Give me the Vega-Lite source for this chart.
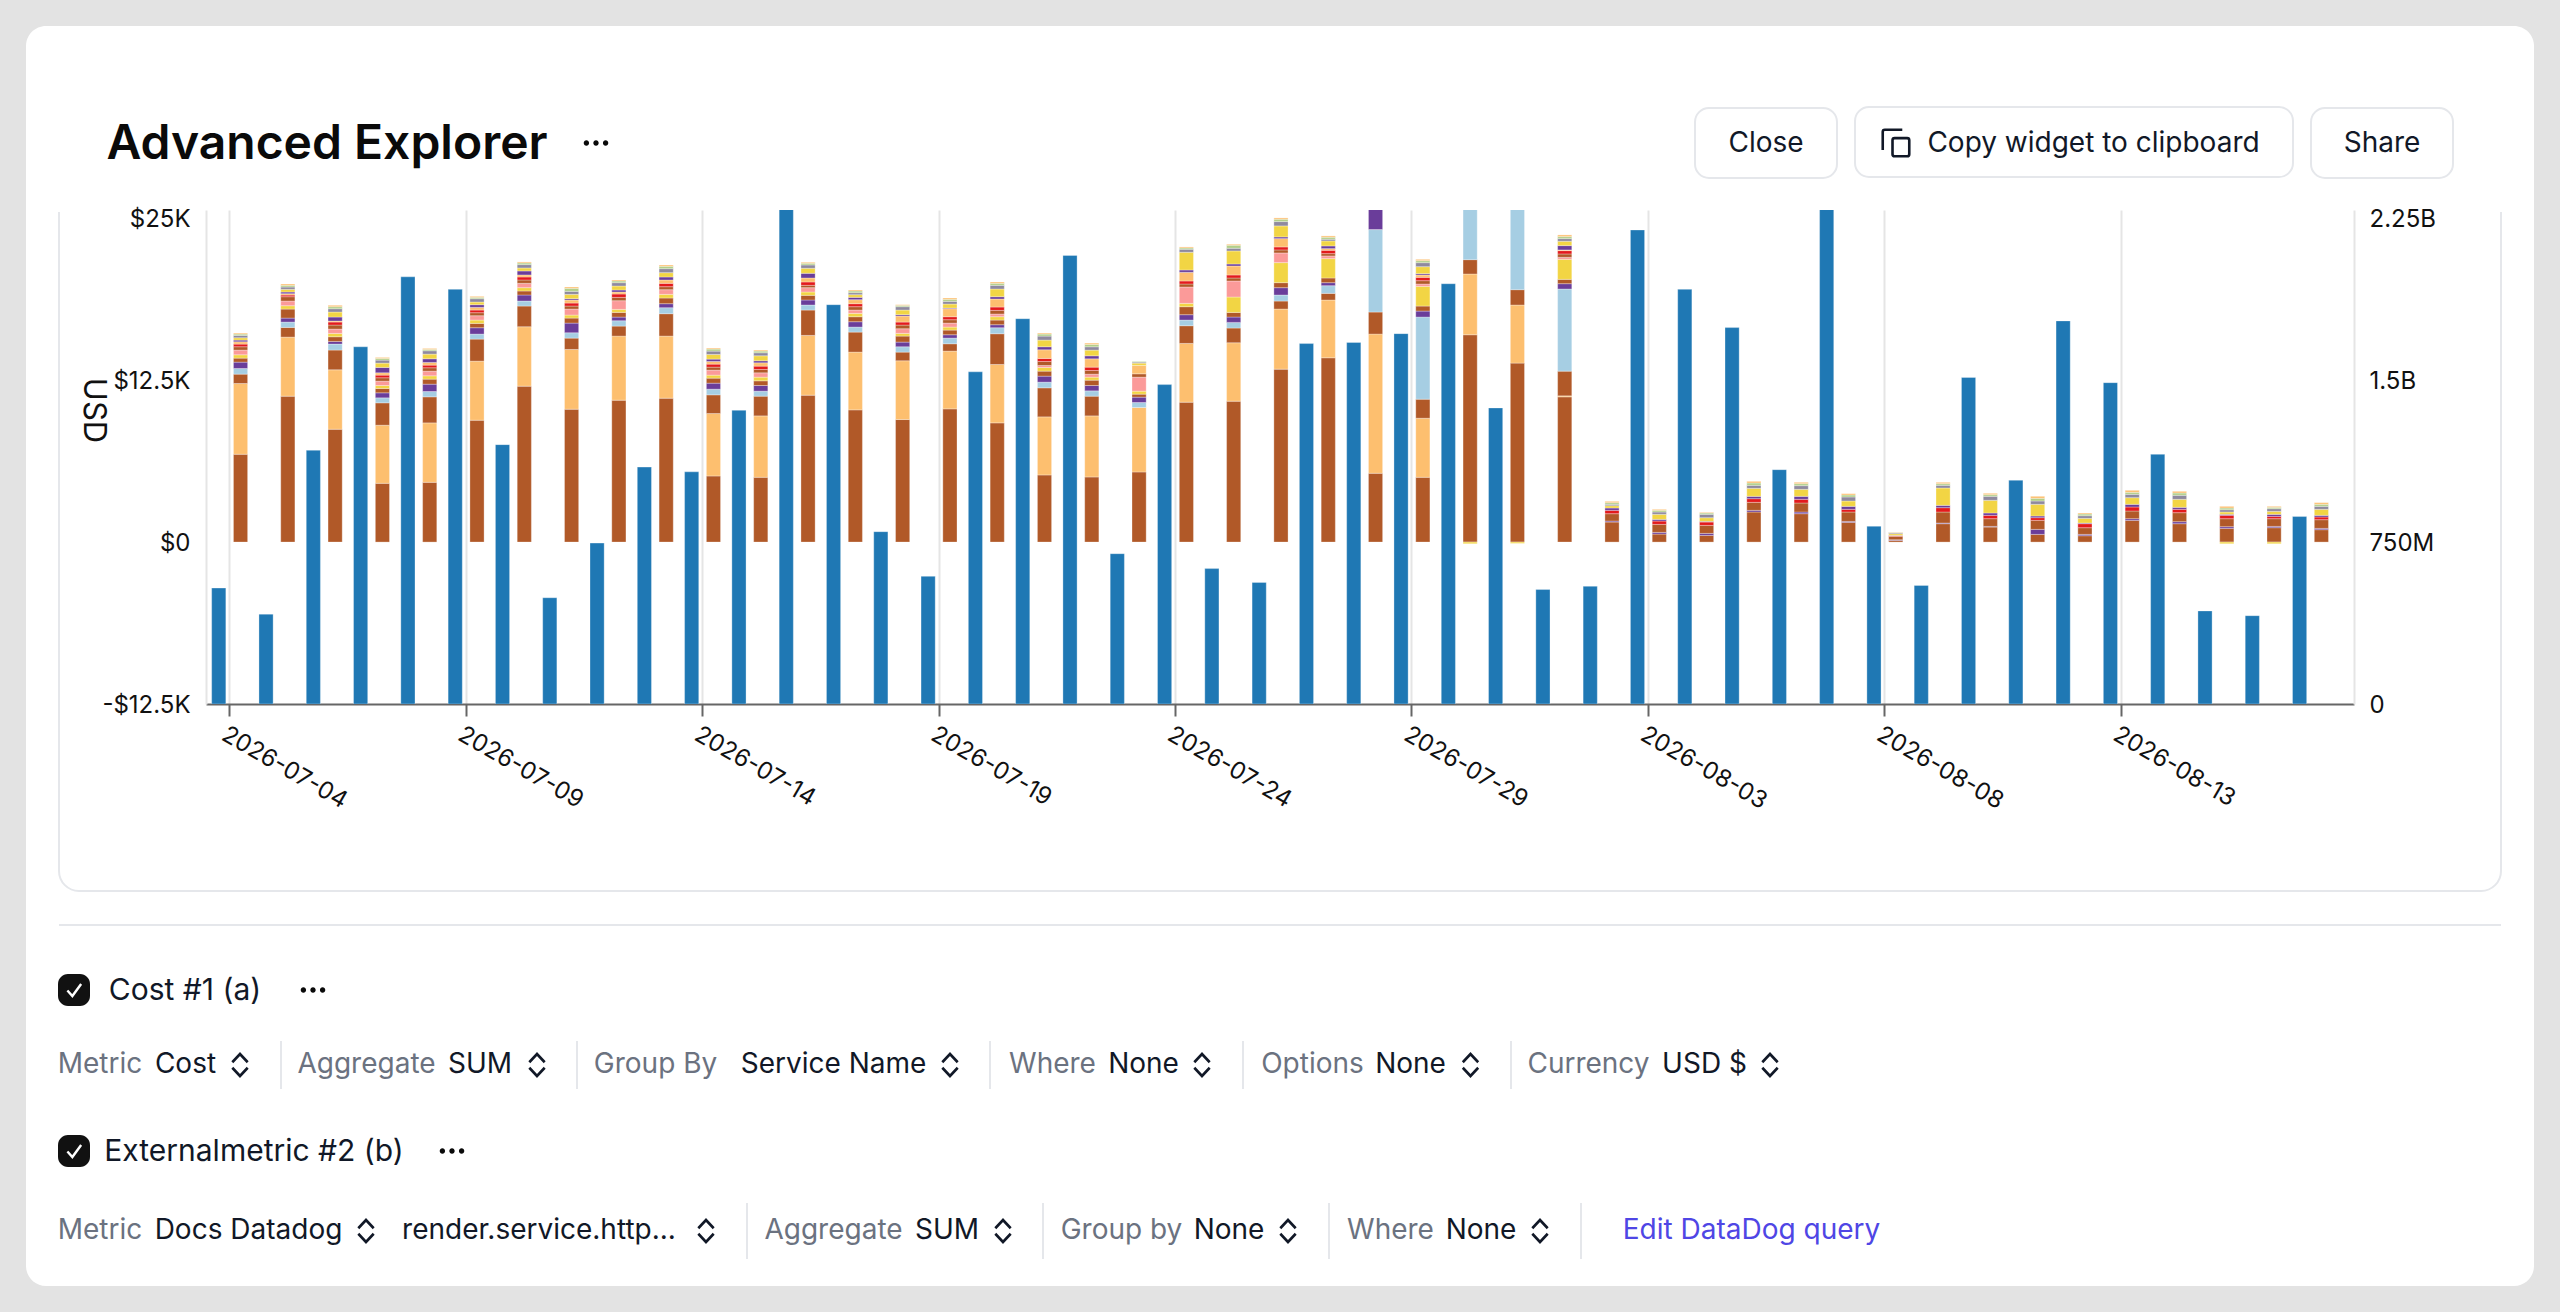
{"$schema":"https://vega.github.io/schema/vega-lite/v6.json","description":"Advanced Explorer widget: daily cost by service with an external request metric","background":"#e3e3e3","padding":26,"bounds":"flush","vconcat":[
{"vconcat":[{"width":2508,"height":1260,"view":{"fill":"#ffffff","cornerRadius":20},"data":{"name":"none"},"mark":"text"}]},
{"columns":2,"bounds":"flush","align":"each","concat":[
{"width":33,"height":164,"data":{"name":"none"},"mark":"text"},{"width":2442,"height":164,"data":{"name":"none"},"mark":"text"},
{"width":33,"height":701,"data":{"name":"none"},"mark":"text"},{"width":2442,"height":701,"view":{"stroke":"#e5e7eb","strokeWidth":2,"cornerRadius":20},"data":{"name":"none"},"mark":"text"}]},
{"columns":2,"bounds":"flush","align":"each","concat":[
{"width":1829,"height":81,"data":{"name":"none"},"mark":"text"},{"width":438,"height":81,"data":{"name":"none"},"mark":"text"},
{"width":1829,"height":70,"data":{"name":"none"},"mark":"text"},{"width":438,"height":70,"view":{"stroke":"#e5e7eb","strokeWidth":2,"cornerRadius":14},"data":{"name":"none"},"mark":"text"}]},
{"vconcat":[
{"width":2508,"height":81,"data":{"name":"none"},"mark":"text"},
{"bounds":"flush","hconcat":[
{"width":80,"height":70,"data":{"name":"none"},"mark":"text"},
{"width":442,"height":70,"data":{"values":[{"label":"Advanced Explorer"}]},"mark":{"type":"text","style":"ttl"},"encoding":{"text":{"field":"label"}}},
{"width":96,"height":70,"data":{"values":[{"icon":"more"}]},"mark":{"type":"point","shape":"M-1.92,0a.42,.42 0 1,0 .84,0a.42,.42 0 1,0 -.84,0M-.42,0a.42,.42 0 1,0 .84,0a.42,.42 0 1,0 -.84,0M1.08,0a.42,.42 0 1,0 .84,0a.42,.42 0 1,0 -.84,0","size":164,"filled":true,"color":"#0a0a0a","opacity":1}},
{"width":1051,"height":70,"data":{"name":"none"},"mark":"text"},
{"width":142,"height":70,"view":{"stroke":"#e5e7eb","strokeWidth":2,"cornerRadius":14},"data":{"values":[{"label":"Close"}]},"mark":{"type":"text","style":"btn"},"encoding":{"text":{"field":"label"}}},
{"width":18,"height":70,"data":{"name":"none"},"mark":"text"},
{"width":27,"height":70,"data":{"name":"none"},"mark":"text"},
{"width":28,"height":70,"data":{"values":[{"icon":"copy"}]},"mark":{"type":"point","shape":"M-.25,-.2Q-.25,-.35 -.1,-.35H.8Q.95,-.35 .95,-.2V.8Q.95,.95 .8,.95H-.1Q-.25,.95 -.25,.8ZM-.95,.5V-.8Q-.95,-.95 -.8,-.95H.45","size":780,"color":"#111827","strokeWidth":2.6,"opacity":1}},
{"width":367,"height":70,"data":{"values":[{"label":"Copy widget to clipboard"}]},"mark":{"type":"text","style":"btn"},"encoding":{"text":{"field":"label"}}},
{"width":34,"height":70,"data":{"name":"none"},"mark":"text"},
{"width":142,"height":70,"view":{"stroke":"#e5e7eb","strokeWidth":2,"cornerRadius":14},"data":{"values":[{"label":"Share"}]},"mark":{"type":"text","style":"btn"},"encoding":{"text":{"field":"label"}}}]},
{"width":2508,"height":3,"data":{"name":"none"},"mark":"text"},
{"bounds":"flush","hconcat":[
{"width":14,"height":30,"data":{"name":"none"},"mark":"text"},
{"width":2480,"height":30,"view":{"fill":"#ffffff"},"data":{"name":"none"},"mark":"text"}]},
{"width":2508,"height":712,"data":{"name":"none"},"mark":"text"},
{"bounds":"flush","hconcat":[
{"width":33,"height":2,"data":{"name":"none"},"mark":"text"},
{"width":2442,"height":2,"view":{"fill":"#e5e7eb"},"data":{"name":"none"},"mark":"text"}]},
{"width":2508,"height":48,"data":{"name":"none"},"mark":"text"},
{"bounds":"flush","hconcat":[
{"width":32,"height":32,"data":{"name":"none"},"mark":"text"},
{"width":32,"height":32,"view":{"fill":"#111111","cornerRadius":10},"data":{"values":[{"icon":"checked"}]},"mark":{"type":"point","shape":"M-.6,.05L-.15,.55L.65,-.55","size":484,"color":"#ffffff","strokeWidth":2.4,"opacity":1}},
{"width":16,"height":32,"data":{"name":"none"},"mark":"text"},
{"width":158,"height":32,"data":{"values":[{"label":"Cost #1 (a)"}]},"mark":{"type":"text","style":"chk"},"encoding":{"text":{"field":"label"}}},
{"width":36,"height":32,"data":{"name":"none"},"mark":"text"},
{"width":26,"height":32,"data":{"values":[{"icon":"more"}]},"mark":{"type":"point","shape":"M-1.92,0a.42,.42 0 1,0 .84,0a.42,.42 0 1,0 -.84,0M-.42,0a.42,.42 0 1,0 .84,0a.42,.42 0 1,0 -.84,0M1.08,0a.42,.42 0 1,0 .84,0a.42,.42 0 1,0 -.84,0","size":164,"filled":true,"color":"#0a0a0a","opacity":1}}]},
{"width":2508,"height":35,"data":{"name":"none"},"mark":"text"},
{"bounds":"flush","hconcat":[
{"width":34,"height":48,"data":{"name":"none"},"mark":"text"},
{"width":80,"height":48,"data":{"values":[{"label":"Metric"}]},"mark":{"type":"text","style":"lbl"},"encoding":{"text":{"field":"label"}}},
{"width":91,"height":48,"data":{"values":[{"label":"Cost"}]},"mark":{"type":"text","style":"val"},"encoding":{"text":{"field":"label"}}},
{"width":18,"height":48,"data":{"values":[{"icon":"select"}]},"mark":{"type":"point","shape":"M-.7,-.25L0,-1L.7,-.25M-.7,.25L0,1L.7,.25","size":484,"color":"#111827","strokeWidth":2.6,"opacity":1}},
{"width":31,"height":48,"data":{"name":"none"},"mark":"text"},
{"width":2,"height":48,"view":{"fill":"#e5e7eb"},"data":{"name":"none"},"mark":"text"},
{"width":169,"height":48,"data":{"values":[{"label":"Aggregate"}]},"mark":{"type":"text","style":"lbl"},"encoding":{"text":{"field":"label"}}},
{"width":58,"height":48,"data":{"values":[{"label":"SUM"}]},"mark":{"type":"text","style":"val"},"encoding":{"text":{"field":"label"}}},
{"width":56,"height":48,"data":{"values":[{"icon":"select"}]},"mark":{"type":"point","shape":"M-.7,-.25L0,-1L.7,-.25M-.7,.25L0,1L.7,.25","size":484,"color":"#111827","strokeWidth":2.6,"opacity":1}},
{"width":11,"height":48,"data":{"name":"none"},"mark":"text"},
{"width":2,"height":48,"view":{"fill":"#e5e7eb"},"data":{"name":"none"},"mark":"text"},
{"width":155,"height":48,"data":{"values":[{"label":"Group By"}]},"mark":{"type":"text","style":"lbl"},"encoding":{"text":{"field":"label"}}},
{"width":201,"height":48,"data":{"values":[{"label":"Service Name"}]},"mark":{"type":"text","style":"val"},"encoding":{"text":{"field":"label"}}},
{"width":32,"height":48,"data":{"values":[{"icon":"select"}]},"mark":{"type":"point","shape":"M-.7,-.25L0,-1L.7,-.25M-.7,.25L0,1L.7,.25","size":484,"color":"#111827","strokeWidth":2.6,"opacity":1}},
{"width":23,"height":48,"data":{"name":"none"},"mark":"text"},
{"width":2,"height":48,"view":{"fill":"#e5e7eb"},"data":{"name":"none"},"mark":"text"},
{"width":123,"height":48,"data":{"values":[{"label":"Where"}]},"mark":{"type":"text","style":"lbl"},"encoding":{"text":{"field":"label"}}},
{"width":59,"height":48,"data":{"values":[{"label":"None"}]},"mark":{"type":"text","style":"val"},"encoding":{"text":{"field":"label"}}},
{"width":58,"height":48,"data":{"values":[{"icon":"select"}]},"mark":{"type":"point","shape":"M-.7,-.25L0,-1L.7,-.25M-.7,.25L0,1L.7,.25","size":484,"color":"#111827","strokeWidth":2.6,"opacity":1}},
{"width":11,"height":48,"data":{"name":"none"},"mark":"text"},
{"width":2,"height":48,"view":{"fill":"#e5e7eb"},"data":{"name":"none"},"mark":"text"},
{"width":137,"height":48,"data":{"values":[{"label":"Options"}]},"mark":{"type":"text","style":"lbl"},"encoding":{"text":{"field":"label"}}},
{"width":59,"height":48,"data":{"values":[{"label":"None"}]},"mark":{"type":"text","style":"val"},"encoding":{"text":{"field":"label"}}},
{"width":61,"height":48,"data":{"values":[{"icon":"select"}]},"mark":{"type":"point","shape":"M-.7,-.25L0,-1L.7,-.25M-.7,.25L0,1L.7,.25","size":484,"color":"#111827","strokeWidth":2.6,"opacity":1}},
{"width":9,"height":48,"data":{"name":"none"},"mark":"text"},
{"width":2,"height":48,"view":{"fill":"#e5e7eb"},"data":{"name":"none"},"mark":"text"},
{"width":153,"height":48,"data":{"values":[{"label":"Currency"}]},"mark":{"type":"text","style":"lbl"},"encoding":{"text":{"field":"label"}}},
{"width":79,"height":48,"data":{"values":[{"label":"USD $"}]},"mark":{"type":"text","style":"val"},"encoding":{"text":{"field":"label"}}},
{"width":52,"height":48,"data":{"values":[{"icon":"select"}]},"mark":{"type":"point","shape":"M-.7,-.25L0,-1L.7,-.25M-.7,.25L0,1L.7,.25","size":484,"color":"#111827","strokeWidth":2.6,"opacity":1}}]},
{"width":2508,"height":46,"data":{"name":"none"},"mark":"text"},
{"bounds":"flush","hconcat":[
{"width":32,"height":32,"data":{"name":"none"},"mark":"text"},
{"width":32,"height":32,"view":{"fill":"#111111","cornerRadius":10},"data":{"values":[{"icon":"checked"}]},"mark":{"type":"point","shape":"M-.6,.05L-.15,.55L.65,-.55","size":484,"color":"#ffffff","strokeWidth":2.4,"opacity":1}},
{"width":16,"height":32,"data":{"name":"none"},"mark":"text"},
{"width":296,"height":32,"data":{"values":[{"label":"Externalmetric #2 (b)"}]},"mark":{"type":"text","style":"chk"},"encoding":{"text":{"field":"label"}}},
{"width":37,"height":32,"data":{"name":"none"},"mark":"text"},
{"width":26,"height":32,"data":{"values":[{"icon":"more"}]},"mark":{"type":"point","shape":"M-1.92,0a.42,.42 0 1,0 .84,0a.42,.42 0 1,0 -.84,0M-.42,0a.42,.42 0 1,0 .84,0a.42,.42 0 1,0 -.84,0M1.08,0a.42,.42 0 1,0 .84,0a.42,.42 0 1,0 -.84,0","size":164,"filled":true,"color":"#0a0a0a","opacity":1}}]},
{"width":2508,"height":36,"data":{"name":"none"},"mark":"text"},
{"bounds":"flush","hconcat":[
{"width":34,"height":56,"data":{"name":"none"},"mark":"text"},
{"width":80,"height":56,"data":{"values":[{"label":"Metric"}]},"mark":{"type":"text","style":"lbl"},"encoding":{"text":{"field":"label"}}},
{"width":217,"height":56,"data":{"values":[{"label":"Docs Datadog"}]},"mark":{"type":"text","style":"val"},"encoding":{"text":{"field":"label"}}},
{"width":18,"height":56,"data":{"values":[{"icon":"select"}]},"mark":{"type":"point","shape":"M-.7,-.25L0,-1L.7,-.25M-.7,.25L0,1L.7,.25","size":484,"color":"#111827","strokeWidth":2.6,"opacity":1}},
{"width":328,"height":56,"data":{"values":[{"label":"render.service.http..."}]},"mark":{"type":"text","style":"val"},"encoding":{"text":{"field":"label"}}},
{"width":6,"height":56,"data":{"values":[{"icon":"select"}]},"mark":{"type":"point","shape":"M-.7,-.25L0,-1L.7,-.25M-.7,.25L0,1L.7,.25","size":484,"color":"#111827","strokeWidth":2.6,"opacity":1}},
{"width":37,"height":56,"data":{"name":"none"},"mark":"text"},
{"width":2,"height":56,"view":{"fill":"#e5e7eb"},"data":{"name":"none"},"mark":"text"},
{"width":171,"height":56,"data":{"values":[{"label":"Aggregate"}]},"mark":{"type":"text","style":"lbl"},"encoding":{"text":{"field":"label"}}},
{"width":56,"height":56,"data":{"values":[{"label":"SUM"}]},"mark":{"type":"text","style":"val"},"encoding":{"text":{"field":"label"}}},
{"width":56,"height":56,"data":{"values":[{"icon":"select"}]},"mark":{"type":"point","shape":"M-.7,-.25L0,-1L.7,-.25M-.7,.25L0,1L.7,.25","size":484,"color":"#111827","strokeWidth":2.6,"opacity":1}},
{"width":11,"height":56,"data":{"name":"none"},"mark":"text"},
{"width":2,"height":56,"view":{"fill":"#e5e7eb"},"data":{"name":"none"},"mark":"text"},
{"width":155,"height":56,"data":{"values":[{"label":"Group by"}]},"mark":{"type":"text","style":"lbl"},"encoding":{"text":{"field":"label"}}},
{"width":60,"height":56,"data":{"values":[{"label":"None"}]},"mark":{"type":"text","style":"val"},"encoding":{"text":{"field":"label"}}},
{"width":58,"height":56,"data":{"values":[{"icon":"select"}]},"mark":{"type":"point","shape":"M-.7,-.25L0,-1L.7,-.25M-.7,.25L0,1L.7,.25","size":484,"color":"#111827","strokeWidth":2.6,"opacity":1}},
{"width":11,"height":56,"data":{"name":"none"},"mark":"text"},
{"width":2,"height":56,"view":{"fill":"#e5e7eb"},"data":{"name":"none"},"mark":"text"},
{"width":121,"height":56,"data":{"values":[{"label":"Where"}]},"mark":{"type":"text","style":"lbl"},"encoding":{"text":{"field":"label"}}},
{"width":60,"height":56,"data":{"values":[{"label":"None"}]},"mark":{"type":"text","style":"val"},"encoding":{"text":{"field":"label"}}},
{"width":58,"height":56,"data":{"values":[{"icon":"select"}]},"mark":{"type":"point","shape":"M-.7,-.25L0,-1L.7,-.25M-.7,.25L0,1L.7,.25","size":484,"color":"#111827","strokeWidth":2.6,"opacity":1}},
{"width":11,"height":56,"data":{"name":"none"},"mark":"text"},
{"width":2,"height":56,"view":{"fill":"#e5e7eb"},"data":{"name":"none"},"mark":"text"},
{"width":339,"height":56,"data":{"values":[{"label":"Edit DataDog query"}]},"mark":{"type":"text","style":"link"},"encoding":{"text":{"field":"label"}}}]}]},
{"columns":2,"bounds":"flush","align":"each","concat":[
{"width":180,"height":184,"data":{"name":"none"},"mark":"text"},{"width":2148,"height":184,"data":{"name":"none"},"mark":"text"},
{"width":180,"height":494,"data":{"name":"none"},"mark":"text"},
{"width":2148,"height":494,"resolve":{"scale":{"y":"independent"}},"layer":[
{"data":{"name":"cost"},"mark":{"type":"bar","clip":true,"stroke":"#ffffff","strokeWidth":1,"strokeOpacity":0.3},"encoding":{
"x":{"field":"date","type":"ordinal","scale":{"paddingInner":0,"paddingOuter":0.21,"align":0},"axis":{"title":null,"values":["2026-07-04","2026-07-09","2026-07-14","2026-07-19","2026-07-24","2026-07-29","2026-08-03","2026-08-08","2026-08-13"],"labelAngle":30,"labelAlign":"left","labelBaseline":"top","labelPadding":6,"labelFontSize":24,"labelColor":"#111111","grid":true,"gridColor":"#e5e5e5","gridWidth":2,"domainColor":"#666666","domainWidth":2,"tickColor":"#666666","tickWidth":2,"tickSize":12}},
"xOffset":{"datum":"a","type":"nominal","scale":{"domain":["b","a"],"paddingInner":0.35,"paddingOuter":0.26}},
"y":{"field":"usd","type":"quantitative","stack":"zero","scale":{"domain":[-12500,25633],"nice":false},"axis":{"title":"USD","titleAngle":90,"titleX":-130,"titleY":200,"titleFontSize":31,"titleFontWeight":"normal","titleColor":"#111111","values":[-12500,0,12500,25000],"labelExpr":"replace(replace(format(datum.value,'$~s'),'k','K'),'−','-')","labelFontSize":24,"labelColor":"#111111","labelPadding":16,"labelOffset":1.5,"ticks":false,"grid":false,"domain":true,"domainColor":"#e5e5e5","domainWidth":2}},
"color":{"field":"service","type":"nominal","legend":null,"scale":{"domain":["s01","s02","s03","s04","s05","s06","s07","s08","s09","s10","s11","s12","s13","s14","s15","s16","s17"],"range":["#b15928","#fdbf6f","#b15928","#a6cee3","#6a3d9a","#b15928","#f2d544","#fb9a99","#b15928","#e31a1c","#fdbf6f","#6a3d9a","#f2d544","#8f8a9e","#b2cf8a","#fdbf6f","#f2d544"]}},
"order":{"field":"service","sort":"ascending"}}},
{"data":{"name":"requests"},"mark":{"type":"bar","clip":true,"color":"#1f78b4","stroke":"#ffffff","strokeWidth":1,"strokeOpacity":0.3},"encoding":{
"x":{"field":"date","type":"ordinal","scale":{"paddingInner":0,"paddingOuter":0.21,"align":0}},
"xOffset":{"datum":"b","type":"nominal","scale":{"domain":["b","a"],"paddingInner":0.35,"paddingOuter":0.26}},
"y":{"field":"requests","type":"quantitative","scale":{"domain":[0,2287500000],"nice":false},"axis":{"orient":"right","title":null,"values":[0,750000000,1500000000,2250000000],"labelExpr":"replace(format(datum.value,'~s'),'G','B')","labelFontSize":24,"labelColor":"#111111","labelPadding":15,"labelOffset":1.5,"ticks":false,"grid":false,"domain":true,"domainColor":"#e5e5e5","domainWidth":2}}}}]}]}
],"config":{"font":"Inter","view":{"stroke":null},"concat":{"spacing":0},"style":{"lbl":{"color":"#6b7280","fontSize":28},"val":{"color":"#111827","fontSize":28},"btn":{"color":"#111827","fontSize":28,"dy":1},"chk":{"color":"#111827","fontSize":30,"dy":1},"link":{"color":"#4f46e5","fontSize":28},"ttl":{"color":"#0a0a0a","fontSize":48,"fontWeight":600,"dy":1.5}}},
"datasets":{"none":[],
"requests":[{"date":"2026-07-04","requests":537000000},{"date":"2026-07-05","requests":416000000},{"date":"2026-07-06","requests":1175000000},{"date":"2026-07-07","requests":1654000000},{"date":"2026-07-08","requests":1978000000},{"date":"2026-07-09","requests":1920000000},{"date":"2026-07-10","requests":1201000000},{"date":"2026-07-11","requests":492000000},{"date":"2026-07-12","requests":745000000},{"date":"2026-07-13","requests":1097000000},{"date":"2026-07-14","requests":1075000000},{"date":"2026-07-15","requests":1360000000},{"date":"2026-07-16","requests":2400000000},{"date":"2026-07-17","requests":1849000000},{"date":"2026-07-18","requests":798000000},{"date":"2026-07-19","requests":591000000},{"date":"2026-07-20","requests":1538000000},{"date":"2026-07-21","requests":1784000000},{"date":"2026-07-22","requests":2077000000},{"date":"2026-07-23","requests":696000000},{"date":"2026-07-24","requests":1479000000},{"date":"2026-07-25","requests":627000000},{"date":"2026-07-26","requests":563000000},{"date":"2026-07-27","requests":1669000000},{"date":"2026-07-28","requests":1674000000},{"date":"2026-07-29","requests":1715000000},{"date":"2026-07-30","requests":1946000000},{"date":"2026-07-31","requests":1371000000},{"date":"2026-08-01","requests":530000000},{"date":"2026-08-02","requests":545000000},{"date":"2026-08-03","requests":2195000000},{"date":"2026-08-04","requests":1920000000},{"date":"2026-08-05","requests":1743000000},{"date":"2026-08-06","requests":1085000000},{"date":"2026-08-07","requests":2400000000},{"date":"2026-08-08","requests":823000000},{"date":"2026-08-09","requests":549000000},{"date":"2026-08-10","requests":1512000000},{"date":"2026-08-11","requests":1036000000},{"date":"2026-08-12","requests":1774000000},{"date":"2026-08-13","requests":1488000000},{"date":"2026-08-14","requests":1156000000},{"date":"2026-08-15","requests":431000000},{"date":"2026-08-16","requests":409000000},{"date":"2026-08-17","requests":868000000}],
"cost":[
{"date":"2026-07-04","service":"s01","usd":6777},{"date":"2026-07-04","service":"s02","usd":5463},{"date":"2026-07-04","service":"s03","usd":722},{"date":"2026-07-04","service":"s04","usd":438},{"date":"2026-07-04","service":"s05","usd":490},{"date":"2026-07-04","service":"s06","usd":309},{"date":"2026-07-04","service":"s07","usd":258},{"date":"2026-07-04","service":"s08","usd":361},{"date":"2026-07-04","service":"s09","usd":258},{"date":"2026-07-04","service":"s10","usd":206},{"date":"2026-07-04","service":"s11","usd":180},{"date":"2026-07-04","service":"s12","usd":129},{"date":"2026-07-04","service":"s13","usd":180},{"date":"2026-07-04","service":"s14","usd":180},{"date":"2026-07-04","service":"s15","usd":103},{"date":"2026-07-04","service":"s16","usd":77},
{"date":"2026-07-05","service":"s01","usd":11261},{"date":"2026-07-05","service":"s02","usd":4561},{"date":"2026-07-05","service":"s03","usd":747},{"date":"2026-07-05","service":"s04","usd":412},{"date":"2026-07-05","service":"s05","usd":309},{"date":"2026-07-05","service":"s06","usd":696},{"date":"2026-07-05","service":"s07","usd":258},{"date":"2026-07-05","service":"s08","usd":361},{"date":"2026-07-05","service":"s09","usd":335},{"date":"2026-07-05","service":"s10","usd":129},{"date":"2026-07-05","service":"s11","usd":103},{"date":"2026-07-05","service":"s12","usd":129},{"date":"2026-07-05","service":"s13","usd":206},{"date":"2026-07-05","service":"s14","usd":180},{"date":"2026-07-05","service":"s15","usd":129},{"date":"2026-07-05","service":"s16","usd":103},
{"date":"2026-07-06","service":"s01","usd":8710},{"date":"2026-07-06","service":"s02","usd":4587},{"date":"2026-07-06","service":"s03","usd":1520},{"date":"2026-07-06","service":"s04","usd":464},{"date":"2026-07-06","service":"s05","usd":206},{"date":"2026-07-06","service":"s06","usd":361},{"date":"2026-07-06","service":"s07","usd":258},{"date":"2026-07-06","service":"s08","usd":335},{"date":"2026-07-06","service":"s09","usd":309},{"date":"2026-07-06","service":"s10","usd":232},{"date":"2026-07-06","service":"s11","usd":77},{"date":"2026-07-06","service":"s12","usd":309},{"date":"2026-07-06","service":"s13","usd":387},{"date":"2026-07-06","service":"s14","usd":258},{"date":"2026-07-06","service":"s15","usd":155},{"date":"2026-07-06","service":"s16","usd":103},
{"date":"2026-07-07","service":"s01","usd":4536},{"date":"2026-07-07","service":"s02","usd":4484},{"date":"2026-07-07","service":"s03","usd":1727},{"date":"2026-07-07","service":"s04","usd":387},{"date":"2026-07-07","service":"s05","usd":387},{"date":"2026-07-07","service":"s06","usd":335},{"date":"2026-07-07","service":"s07","usd":232},{"date":"2026-07-07","service":"s08","usd":335},{"date":"2026-07-07","service":"s09","usd":258},{"date":"2026-07-07","service":"s10","usd":206},{"date":"2026-07-07","service":"s11","usd":180},{"date":"2026-07-07","service":"s12","usd":412},{"date":"2026-07-07","service":"s13","usd":335},{"date":"2026-07-07","service":"s14","usd":232},{"date":"2026-07-07","service":"s15","usd":129},{"date":"2026-07-07","service":"s16","usd":77},
{"date":"2026-07-08","service":"s01","usd":4613},{"date":"2026-07-08","service":"s02","usd":4587},{"date":"2026-07-08","service":"s03","usd":2010},{"date":"2026-07-08","service":"s04","usd":412},{"date":"2026-07-08","service":"s05","usd":567},{"date":"2026-07-08","service":"s06","usd":387},{"date":"2026-07-08","service":"s07","usd":258},{"date":"2026-07-08","service":"s08","usd":361},{"date":"2026-07-08","service":"s09","usd":258},{"date":"2026-07-08","service":"s10","usd":206},{"date":"2026-07-08","service":"s11","usd":206},{"date":"2026-07-08","service":"s12","usd":283},{"date":"2026-07-08","service":"s13","usd":361},{"date":"2026-07-08","service":"s14","usd":258},{"date":"2026-07-08","service":"s15","usd":103},{"date":"2026-07-08","service":"s16","usd":77},
{"date":"2026-07-09","service":"s01","usd":9406},{"date":"2026-07-09","service":"s02","usd":4561},{"date":"2026-07-09","service":"s03","usd":1701},{"date":"2026-07-09","service":"s04","usd":387},{"date":"2026-07-09","service":"s05","usd":490},{"date":"2026-07-09","service":"s06","usd":335},{"date":"2026-07-09","service":"s07","usd":258},{"date":"2026-07-09","service":"s08","usd":335},{"date":"2026-07-09","service":"s09","usd":232},{"date":"2026-07-09","service":"s10","usd":206},{"date":"2026-07-09","service":"s11","usd":206},{"date":"2026-07-09","service":"s12","usd":206},{"date":"2026-07-09","service":"s13","usd":206},{"date":"2026-07-09","service":"s14","usd":258},{"date":"2026-07-09","service":"s15","usd":103},{"date":"2026-07-09","service":"s16","usd":77},
{"date":"2026-07-10","service":"s01","usd":12035},{"date":"2026-07-10","service":"s02","usd":4587},{"date":"2026-07-10","service":"s03","usd":1598},{"date":"2026-07-10","service":"s04","usd":387},{"date":"2026-07-10","service":"s05","usd":464},{"date":"2026-07-10","service":"s06","usd":309},{"date":"2026-07-10","service":"s07","usd":258},{"date":"2026-07-10","service":"s08","usd":335},{"date":"2026-07-10","service":"s09","usd":258},{"date":"2026-07-10","service":"s10","usd":232},{"date":"2026-07-10","service":"s11","usd":155},{"date":"2026-07-10","service":"s12","usd":309},{"date":"2026-07-10","service":"s13","usd":232},{"date":"2026-07-10","service":"s14","usd":258},{"date":"2026-07-10","service":"s15","usd":129},{"date":"2026-07-10","service":"s16","usd":77},
{"date":"2026-07-11","service":"s01","usd":10256},{"date":"2026-07-11","service":"s02","usd":4613},{"date":"2026-07-11","service":"s03","usd":876},{"date":"2026-07-11","service":"s04","usd":412},{"date":"2026-07-11","service":"s05","usd":747},{"date":"2026-07-11","service":"s06","usd":387},{"date":"2026-07-11","service":"s07","usd":232},{"date":"2026-07-11","service":"s08","usd":464},{"date":"2026-07-11","service":"s09","usd":232},{"date":"2026-07-11","service":"s10","usd":232},{"date":"2026-07-11","service":"s11","usd":232},{"date":"2026-07-11","service":"s12","usd":103},{"date":"2026-07-11","service":"s13","usd":335},{"date":"2026-07-11","service":"s14","usd":232},{"date":"2026-07-11","service":"s15","usd":232},{"date":"2026-07-11","service":"s16","usd":103},
{"date":"2026-07-12","service":"s01","usd":10952},{"date":"2026-07-12","service":"s02","usd":4948},{"date":"2026-07-12","service":"s03","usd":773},{"date":"2026-07-12","service":"s04","usd":412},{"date":"2026-07-12","service":"s05","usd":283},{"date":"2026-07-12","service":"s06","usd":361},{"date":"2026-07-12","service":"s07","usd":232},{"date":"2026-07-12","service":"s08","usd":670},{"date":"2026-07-12","service":"s09","usd":258},{"date":"2026-07-12","service":"s10","usd":258},{"date":"2026-07-12","service":"s11","usd":155},{"date":"2026-07-12","service":"s12","usd":155},{"date":"2026-07-12","service":"s13","usd":309},{"date":"2026-07-12","service":"s14","usd":258},{"date":"2026-07-12","service":"s15","usd":129},{"date":"2026-07-12","service":"s16","usd":77},
{"date":"2026-07-13","service":"s01","usd":11107},{"date":"2026-07-13","service":"s02","usd":4793},{"date":"2026-07-13","service":"s03","usd":1727},{"date":"2026-07-13","service":"s04","usd":464},{"date":"2026-07-13","service":"s05","usd":309},{"date":"2026-07-13","service":"s06","usd":438},{"date":"2026-07-13","service":"s07","usd":283},{"date":"2026-07-13","service":"s08","usd":361},{"date":"2026-07-13","service":"s09","usd":232},{"date":"2026-07-13","service":"s10","usd":258},{"date":"2026-07-13","service":"s11","usd":258},{"date":"2026-07-13","service":"s12","usd":232},{"date":"2026-07-13","service":"s13","usd":335},{"date":"2026-07-13","service":"s14","usd":309},{"date":"2026-07-13","service":"s15","usd":180},{"date":"2026-07-13","service":"s16","usd":103},
{"date":"2026-07-14","service":"s01","usd":5102},{"date":"2026-07-14","service":"s02","usd":4819},{"date":"2026-07-14","service":"s03","usd":1443},{"date":"2026-07-14","service":"s04","usd":438},{"date":"2026-07-14","service":"s05","usd":464},{"date":"2026-07-14","service":"s06","usd":387},{"date":"2026-07-14","service":"s07","usd":232},{"date":"2026-07-14","service":"s08","usd":387},{"date":"2026-07-14","service":"s09","usd":232},{"date":"2026-07-14","service":"s10","usd":232},{"date":"2026-07-14","service":"s11","usd":206},{"date":"2026-07-14","service":"s12","usd":180},{"date":"2026-07-14","service":"s13","usd":361},{"date":"2026-07-14","service":"s14","usd":258},{"date":"2026-07-14","service":"s15","usd":155},{"date":"2026-07-14","service":"s16","usd":77},
{"date":"2026-07-15","service":"s01","usd":4999},{"date":"2026-07-15","service":"s02","usd":4742},{"date":"2026-07-15","service":"s03","usd":1520},{"date":"2026-07-15","service":"s04","usd":387},{"date":"2026-07-15","service":"s05","usd":438},{"date":"2026-07-15","service":"s06","usd":361},{"date":"2026-07-15","service":"s07","usd":283},{"date":"2026-07-15","service":"s08","usd":335},{"date":"2026-07-15","service":"s09","usd":258},{"date":"2026-07-15","service":"s10","usd":258},{"date":"2026-07-15","service":"s11","usd":258},{"date":"2026-07-15","service":"s12","usd":155},{"date":"2026-07-15","service":"s13","usd":387},{"date":"2026-07-15","service":"s14","usd":232},{"date":"2026-07-15","service":"s15","usd":129},{"date":"2026-07-15","service":"s16","usd":77},
{"date":"2026-07-16","service":"s01","usd":11339},{"date":"2026-07-16","service":"s02","usd":4613},{"date":"2026-07-16","service":"s03","usd":1959},{"date":"2026-07-16","service":"s04","usd":387},{"date":"2026-07-16","service":"s05","usd":387},{"date":"2026-07-16","service":"s06","usd":361},{"date":"2026-07-16","service":"s07","usd":258},{"date":"2026-07-16","service":"s08","usd":335},{"date":"2026-07-16","service":"s09","usd":180},{"date":"2026-07-16","service":"s10","usd":258},{"date":"2026-07-16","service":"s11","usd":309},{"date":"2026-07-16","service":"s12","usd":361},{"date":"2026-07-16","service":"s13","usd":387},{"date":"2026-07-16","service":"s14","usd":258},{"date":"2026-07-16","service":"s15","usd":129},{"date":"2026-07-16","service":"s16","usd":77},
{"date":"2026-07-17","service":"s01","usd":10205},{"date":"2026-07-17","service":"s02","usd":4458},{"date":"2026-07-17","service":"s03","usd":1546},{"date":"2026-07-17","service":"s04","usd":387},{"date":"2026-07-17","service":"s05","usd":412},{"date":"2026-07-17","service":"s06","usd":387},{"date":"2026-07-17","service":"s07","usd":258},{"date":"2026-07-17","service":"s08","usd":258},{"date":"2026-07-17","service":"s09","usd":258},{"date":"2026-07-17","service":"s10","usd":232},{"date":"2026-07-17","service":"s11","usd":309},{"date":"2026-07-17","service":"s12","usd":180},{"date":"2026-07-17","service":"s13","usd":206},{"date":"2026-07-17","service":"s14","usd":155},{"date":"2026-07-17","service":"s15","usd":129},{"date":"2026-07-17","service":"s16","usd":77},
{"date":"2026-07-18","service":"s01","usd":9458},{"date":"2026-07-18","service":"s02","usd":4536},{"date":"2026-07-18","service":"s03","usd":670},{"date":"2026-07-18","service":"s04","usd":412},{"date":"2026-07-18","service":"s05","usd":361},{"date":"2026-07-18","service":"s06","usd":464},{"date":"2026-07-18","service":"s07","usd":206},{"date":"2026-07-18","service":"s08","usd":361},{"date":"2026-07-18","service":"s09","usd":283},{"date":"2026-07-18","service":"s10","usd":232},{"date":"2026-07-18","service":"s11","usd":464},{"date":"2026-07-18","service":"s12","usd":103},{"date":"2026-07-18","service":"s13","usd":361},{"date":"2026-07-18","service":"s14","usd":258},{"date":"2026-07-18","service":"s15","usd":103},{"date":"2026-07-18","service":"s16","usd":52},
{"date":"2026-07-19","service":"s01","usd":10282},{"date":"2026-07-19","service":"s02","usd":4458},{"date":"2026-07-19","service":"s03","usd":567},{"date":"2026-07-19","service":"s04","usd":438},{"date":"2026-07-19","service":"s05","usd":258},{"date":"2026-07-19","service":"s06","usd":361},{"date":"2026-07-19","service":"s07","usd":232},{"date":"2026-07-19","service":"s08","usd":309},{"date":"2026-07-19","service":"s09","usd":258},{"date":"2026-07-19","service":"s10","usd":232},{"date":"2026-07-19","service":"s11","usd":618},{"date":"2026-07-19","service":"s12","usd":52},{"date":"2026-07-19","service":"s13","usd":309},{"date":"2026-07-19","service":"s14","usd":206},{"date":"2026-07-19","service":"s15","usd":155},{"date":"2026-07-19","service":"s16","usd":103},
{"date":"2026-07-20","service":"s01","usd":9200},{"date":"2026-07-20","service":"s02","usd":4510},{"date":"2026-07-20","service":"s03","usd":2371},{"date":"2026-07-20","service":"s04","usd":464},{"date":"2026-07-20","service":"s05","usd":232},{"date":"2026-07-20","service":"s06","usd":361},{"date":"2026-07-20","service":"s07","usd":258},{"date":"2026-07-20","service":"s08","usd":206},{"date":"2026-07-20","service":"s09","usd":283},{"date":"2026-07-20","service":"s10","usd":258},{"date":"2026-07-20","service":"s11","usd":618},{"date":"2026-07-20","service":"s12","usd":180},{"date":"2026-07-20","service":"s13","usd":593},{"date":"2026-07-20","service":"s14","usd":283},{"date":"2026-07-20","service":"s15","usd":155},{"date":"2026-07-20","service":"s16","usd":103},
{"date":"2026-07-21","service":"s01","usd":5180},{"date":"2026-07-21","service":"s02","usd":4484},{"date":"2026-07-21","service":"s03","usd":2242},{"date":"2026-07-21","service":"s04","usd":438},{"date":"2026-07-21","service":"s05","usd":464},{"date":"2026-07-21","service":"s06","usd":387},{"date":"2026-07-21","service":"s07","usd":283},{"date":"2026-07-21","service":"s08","usd":155},{"date":"2026-07-21","service":"s09","usd":309},{"date":"2026-07-21","service":"s10","usd":232},{"date":"2026-07-21","service":"s11","usd":670},{"date":"2026-07-21","service":"s12","usd":232},{"date":"2026-07-21","service":"s13","usd":515},{"date":"2026-07-21","service":"s14","usd":309},{"date":"2026-07-21","service":"s15","usd":155},{"date":"2026-07-21","service":"s16","usd":77},
{"date":"2026-07-22","service":"s01","usd":5025},{"date":"2026-07-22","service":"s02","usd":4716},{"date":"2026-07-22","service":"s03","usd":1520},{"date":"2026-07-22","service":"s04","usd":412},{"date":"2026-07-22","service":"s05","usd":412},{"date":"2026-07-22","service":"s06","usd":412},{"date":"2026-07-22","service":"s07","usd":232},{"date":"2026-07-22","service":"s08","usd":232},{"date":"2026-07-22","service":"s09","usd":283},{"date":"2026-07-22","service":"s10","usd":258},{"date":"2026-07-22","service":"s11","usd":644},{"date":"2026-07-22","service":"s12","usd":232},{"date":"2026-07-22","service":"s13","usd":438},{"date":"2026-07-22","service":"s14","usd":258},{"date":"2026-07-22","service":"s15","usd":180},{"date":"2026-07-22","service":"s16","usd":103},
{"date":"2026-07-23","service":"s01","usd":5412},{"date":"2026-07-23","service":"s02","usd":4974},{"date":"2026-07-23","service":"s04","usd":387},{"date":"2026-07-23","service":"s05","usd":412},{"date":"2026-07-23","service":"s06","usd":232},{"date":"2026-07-23","service":"s07","usd":232},{"date":"2026-07-23","service":"s08","usd":1082},{"date":"2026-07-23","service":"s09","usd":258},{"date":"2026-07-23","service":"s11","usd":644},{"date":"2026-07-23","service":"s13","usd":180},{"date":"2026-07-23","service":"s14","usd":77},{"date":"2026-07-23","service":"s15","usd":52},
{"date":"2026-07-24","service":"s01","usd":10798},{"date":"2026-07-24","service":"s02","usd":4536},{"date":"2026-07-24","service":"s03","usd":1366},{"date":"2026-07-24","service":"s04","usd":438},{"date":"2026-07-24","service":"s05","usd":412},{"date":"2026-07-24","service":"s06","usd":618},{"date":"2026-07-24","service":"s07","usd":258},{"date":"2026-07-24","service":"s08","usd":1263},{"date":"2026-07-24","service":"s09","usd":232},{"date":"2026-07-24","service":"s10","usd":232},{"date":"2026-07-24","service":"s11","usd":670},{"date":"2026-07-24","service":"s12","usd":180},{"date":"2026-07-24","service":"s13","usd":1366},{"date":"2026-07-24","service":"s14","usd":232},{"date":"2026-07-24","service":"s15","usd":103},{"date":"2026-07-24","service":"s16","usd":77},
{"date":"2026-07-25","service":"s01","usd":10875},{"date":"2026-07-25","service":"s02","usd":4510},{"date":"2026-07-25","service":"s03","usd":1134},{"date":"2026-07-25","service":"s04","usd":438},{"date":"2026-07-25","service":"s05","usd":412},{"date":"2026-07-25","service":"s06","usd":361},{"date":"2026-07-25","service":"s07","usd":1185},{"date":"2026-07-25","service":"s08","usd":1237},{"date":"2026-07-25","service":"s09","usd":232},{"date":"2026-07-25","service":"s10","usd":232},{"date":"2026-07-25","service":"s11","usd":696},{"date":"2026-07-25","service":"s12","usd":155},{"date":"2026-07-25","service":"s13","usd":1005},{"date":"2026-07-25","service":"s14","usd":206},{"date":"2026-07-25","service":"s15","usd":232},{"date":"2026-07-25","service":"s16","usd":77},
{"date":"2026-07-26","service":"s01","usd":13349},{"date":"2026-07-26","service":"s02","usd":4639},{"date":"2026-07-26","service":"s03","usd":618},{"date":"2026-07-26","service":"s04","usd":464},{"date":"2026-07-26","service":"s05","usd":567},{"date":"2026-07-26","service":"s06","usd":387},{"date":"2026-07-26","service":"s07","usd":1546},{"date":"2026-07-26","service":"s08","usd":747},{"date":"2026-07-26","service":"s09","usd":232},{"date":"2026-07-26","service":"s10","usd":232},{"date":"2026-07-26","service":"s11","usd":644},{"date":"2026-07-26","service":"s12","usd":129},{"date":"2026-07-26","service":"s13","usd":850},{"date":"2026-07-26","service":"s14","usd":335},{"date":"2026-07-26","service":"s15","usd":180},{"date":"2026-07-26","service":"s16","usd":103},
{"date":"2026-07-27","service":"s01","usd":14225},{"date":"2026-07-27","service":"s02","usd":4458},{"date":"2026-07-27","service":"s03","usd":515},{"date":"2026-07-27","service":"s04","usd":593},{"date":"2026-07-27","service":"s05","usd":232},{"date":"2026-07-27","service":"s06","usd":361},{"date":"2026-07-27","service":"s07","usd":1495},{"date":"2026-07-27","service":"s08","usd":206},{"date":"2026-07-27","service":"s09","usd":180},{"date":"2026-07-27","service":"s10","usd":258},{"date":"2026-07-27","service":"s11","usd":129},{"date":"2026-07-27","service":"s12","usd":206},{"date":"2026-07-27","service":"s13","usd":387},{"date":"2026-07-27","service":"s14","usd":129},{"date":"2026-07-27","service":"s15","usd":155},{"date":"2026-07-27","service":"s16","usd":103},
{"date":"2026-07-28","service":"s01","usd":5309},{"date":"2026-07-28","service":"s02","usd":10746},{"date":"2026-07-28","service":"s03","usd":1701},{"date":"2026-07-28","service":"s04","usd":6365},{"date":"2026-07-28","service":"s05","usd":5154},
{"date":"2026-07-29","service":"s01","usd":4999},{"date":"2026-07-29","service":"s02","usd":4561},{"date":"2026-07-29","service":"s03","usd":1469},{"date":"2026-07-29","service":"s04","usd":6339},{"date":"2026-07-29","service":"s05","usd":464},{"date":"2026-07-29","service":"s06","usd":387},{"date":"2026-07-29","service":"s07","usd":1520},{"date":"2026-07-29","service":"s08","usd":180},{"date":"2026-07-29","service":"s09","usd":258},{"date":"2026-07-29","service":"s10","usd":258},{"date":"2026-07-29","service":"s11","usd":180},{"date":"2026-07-29","service":"s12","usd":103},{"date":"2026-07-29","service":"s13","usd":541},{"date":"2026-07-29","service":"s14","usd":309},{"date":"2026-07-29","service":"s15","usd":155},{"date":"2026-07-29","service":"s16","usd":103},
{"date":"2026-07-30","service":"s01","usd":16003},{"date":"2026-07-30","service":"s02","usd":4690},{"date":"2026-07-30","service":"s03","usd":1108},{"date":"2026-07-30","service":"s04","usd":7731},{"date":"2026-07-30","service":"s17","usd":-129},
{"date":"2026-07-31","service":"s01","usd":13813},{"date":"2026-07-31","service":"s02","usd":4484},{"date":"2026-07-31","service":"s03","usd":1185},{"date":"2026-07-31","service":"s04","usd":7731},{"date":"2026-07-31","service":"s17","usd":-103},
{"date":"2026-08-01","service":"s01","usd":11210},{"date":"2026-08-01","service":"s02","usd":77},{"date":"2026-08-01","service":"s03","usd":1907},{"date":"2026-08-01","service":"s04","usd":6339},{"date":"2026-08-01","service":"s05","usd":412},{"date":"2026-08-01","service":"s06","usd":335},{"date":"2026-08-01","service":"s07","usd":1546},{"date":"2026-08-01","service":"s08","usd":155},{"date":"2026-08-01","service":"s09","usd":258},{"date":"2026-08-01","service":"s10","usd":258},{"date":"2026-08-01","service":"s11","usd":52},{"date":"2026-08-01","service":"s12","usd":335},{"date":"2026-08-01","service":"s13","usd":335},{"date":"2026-08-01","service":"s14","usd":206},{"date":"2026-08-01","service":"s15","usd":155},{"date":"2026-08-01","service":"s16","usd":129},
{"date":"2026-08-02","service":"s01","usd":1546},{"date":"2026-08-02","service":"s05","usd":77},{"date":"2026-08-02","service":"s06","usd":567},{"date":"2026-08-02","service":"s10","usd":258},{"date":"2026-08-02","service":"s12","usd":180},{"date":"2026-08-02","service":"s13","usd":180},{"date":"2026-08-02","service":"s14","usd":103},{"date":"2026-08-02","service":"s15","usd":129},{"date":"2026-08-02","service":"s16","usd":103},
{"date":"2026-08-03","service":"s01","usd":618},{"date":"2026-08-03","service":"s05","usd":129},{"date":"2026-08-03","service":"s06","usd":618},{"date":"2026-08-03","service":"s10","usd":258},{"date":"2026-08-03","service":"s12","usd":129},{"date":"2026-08-03","service":"s13","usd":387},{"date":"2026-08-03","service":"s14","usd":180},{"date":"2026-08-03","service":"s15","usd":129},{"date":"2026-08-03","service":"s16","usd":77},
{"date":"2026-08-04","service":"s01","usd":515},{"date":"2026-08-04","service":"s05","usd":155},{"date":"2026-08-04","service":"s06","usd":618},{"date":"2026-08-04","service":"s10","usd":258},{"date":"2026-08-04","service":"s12","usd":52},{"date":"2026-08-04","service":"s13","usd":283},{"date":"2026-08-04","service":"s14","usd":258},{"date":"2026-08-04","service":"s15","usd":103},{"date":"2026-08-04","service":"s16","usd":52},
{"date":"2026-08-05","service":"s01","usd":2319},{"date":"2026-08-05","service":"s05","usd":129},{"date":"2026-08-05","service":"s06","usd":618},{"date":"2026-08-05","service":"s10","usd":283},{"date":"2026-08-05","service":"s12","usd":180},{"date":"2026-08-05","service":"s13","usd":618},{"date":"2026-08-05","service":"s14","usd":232},{"date":"2026-08-05","service":"s15","usd":180},{"date":"2026-08-05","service":"s16","usd":129},
{"date":"2026-08-06","service":"s01","usd":2190},{"date":"2026-08-06","service":"s05","usd":129},{"date":"2026-08-06","service":"s06","usd":696},{"date":"2026-08-06","service":"s10","usd":283},{"date":"2026-08-06","service":"s12","usd":232},{"date":"2026-08-06","service":"s13","usd":541},{"date":"2026-08-06","service":"s14","usd":283},{"date":"2026-08-06","service":"s15","usd":155},{"date":"2026-08-06","service":"s16","usd":103},
{"date":"2026-08-07","service":"s01","usd":1520},{"date":"2026-08-07","service":"s05","usd":77},{"date":"2026-08-07","service":"s06","usd":722},{"date":"2026-08-07","service":"s10","usd":206},{"date":"2026-08-07","service":"s12","usd":232},{"date":"2026-08-07","service":"s13","usd":412},{"date":"2026-08-07","service":"s14","usd":309},{"date":"2026-08-07","service":"s15","usd":155},{"date":"2026-08-07","service":"s16","usd":103},
{"date":"2026-08-08","service":"s01","usd":129},{"date":"2026-08-08","service":"s05","usd":52},{"date":"2026-08-08","service":"s06","usd":258},{"date":"2026-08-08","service":"s10","usd":52},{"date":"2026-08-08","service":"s12","usd":26},{"date":"2026-08-08","service":"s13","usd":129},{"date":"2026-08-08","service":"s14","usd":77},{"date":"2026-08-08","service":"s15","usd":26},{"date":"2026-08-08","service":"s16","usd":26},
{"date":"2026-08-09","service":"s01","usd":1417},{"date":"2026-08-09","service":"s05","usd":52},{"date":"2026-08-09","service":"s06","usd":850},{"date":"2026-08-09","service":"s10","usd":335},{"date":"2026-08-09","service":"s12","usd":180},{"date":"2026-08-09","service":"s13","usd":1340},{"date":"2026-08-09","service":"s14","usd":206},{"date":"2026-08-09","service":"s15","usd":129},{"date":"2026-08-09","service":"s16","usd":103},
{"date":"2026-08-10","service":"s01","usd":1160},{"date":"2026-08-10","service":"s05","usd":52},{"date":"2026-08-10","service":"s06","usd":593},{"date":"2026-08-10","service":"s10","usd":258},{"date":"2026-08-10","service":"s12","usd":180},{"date":"2026-08-10","service":"s13","usd":979},{"date":"2026-08-10","service":"s14","usd":309},{"date":"2026-08-10","service":"s15","usd":129},{"date":"2026-08-10","service":"s16","usd":103},
{"date":"2026-08-11","service":"s01","usd":593},{"date":"2026-08-11","service":"s05","usd":387},{"date":"2026-08-11","service":"s06","usd":696},{"date":"2026-08-11","service":"s10","usd":206},{"date":"2026-08-11","service":"s12","usd":129},{"date":"2026-08-11","service":"s13","usd":902},{"date":"2026-08-11","service":"s14","usd":258},{"date":"2026-08-11","service":"s15","usd":206},{"date":"2026-08-11","service":"s16","usd":155},
{"date":"2026-08-12","service":"s01","usd":490},{"date":"2026-08-12","service":"s05","usd":103},{"date":"2026-08-12","service":"s06","usd":515},{"date":"2026-08-12","service":"s10","usd":309},{"date":"2026-08-12","service":"s12","usd":52},{"date":"2026-08-12","service":"s13","usd":361},{"date":"2026-08-12","service":"s14","usd":206},{"date":"2026-08-12","service":"s15","usd":129},{"date":"2026-08-12","service":"s16","usd":77},
{"date":"2026-08-13","service":"s01","usd":1675},{"date":"2026-08-13","service":"s05","usd":129},{"date":"2026-08-13","service":"s06","usd":593},{"date":"2026-08-13","service":"s10","usd":309},{"date":"2026-08-13","service":"s12","usd":206},{"date":"2026-08-13","service":"s13","usd":515},{"date":"2026-08-13","service":"s14","usd":258},{"date":"2026-08-13","service":"s15","usd":155},{"date":"2026-08-13","service":"s16","usd":155},
{"date":"2026-08-14","service":"s01","usd":1417},{"date":"2026-08-14","service":"s05","usd":155},{"date":"2026-08-14","service":"s06","usd":696},{"date":"2026-08-14","service":"s10","usd":258},{"date":"2026-08-14","service":"s12","usd":155},{"date":"2026-08-14","service":"s13","usd":618},{"date":"2026-08-14","service":"s14","usd":309},{"date":"2026-08-14","service":"s15","usd":180},{"date":"2026-08-14","service":"s16","usd":129},
{"date":"2026-08-15","service":"s01","usd":1057},{"date":"2026-08-15","service":"s05","usd":129},{"date":"2026-08-15","service":"s06","usd":618},{"date":"2026-08-15","service":"s10","usd":258},{"date":"2026-08-15","service":"s12","usd":77},{"date":"2026-08-15","service":"s13","usd":180},{"date":"2026-08-15","service":"s14","usd":180},{"date":"2026-08-15","service":"s15","usd":129},{"date":"2026-08-15","service":"s16","usd":129},{"date":"2026-08-15","service":"s17","usd":-129},
{"date":"2026-08-16","service":"s01","usd":1108},{"date":"2026-08-16","service":"s05","usd":103},{"date":"2026-08-16","service":"s06","usd":593},{"date":"2026-08-16","service":"s10","usd":180},{"date":"2026-08-16","service":"s12","usd":155},{"date":"2026-08-16","service":"s13","usd":232},{"date":"2026-08-16","service":"s14","usd":206},{"date":"2026-08-16","service":"s15","usd":103},{"date":"2026-08-16","service":"s16","usd":77},{"date":"2026-08-16","service":"s17","usd":-129},
{"date":"2026-08-17","service":"s01","usd":954},{"date":"2026-08-17","service":"s05","usd":103},{"date":"2026-08-17","service":"s06","usd":670},{"date":"2026-08-17","service":"s10","usd":206},{"date":"2026-08-17","service":"s12","usd":129},{"date":"2026-08-17","service":"s13","usd":464},{"date":"2026-08-17","service":"s14","usd":232},{"date":"2026-08-17","service":"s15","usd":155},{"date":"2026-08-17","service":"s16","usd":129}
]}}
